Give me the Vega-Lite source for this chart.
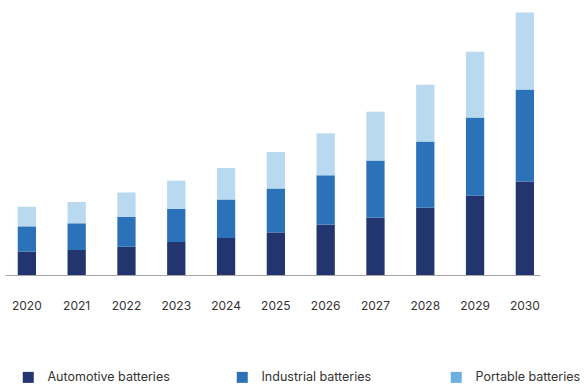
{
  "$schema": "https://vega.github.io/schema/vega-lite/v6.json",
  "autosize": "none",
  "width": 535,
  "height": 275,
  "padding": {"left": 5, "top": 0, "right": 44, "bottom": 109},
  "background": "white",
  "config": {"view": {"stroke": null}, "font": "Inter"},
  "data": {"values": [
    {"year": "2020", "series": "Automotive batteries", "value": 23.6},
    {"year": "2020", "series": "Industrial batteries", "value": 25.0},
    {"year": "2020", "series": "Portable batteries", "value": 19.7},
    {"year": "2021", "series": "Automotive batteries", "value": 25.0},
    {"year": "2021", "series": "Industrial batteries", "value": 26.6},
    {"year": "2021", "series": "Portable batteries", "value": 21.4},
    {"year": "2022", "series": "Automotive batteries", "value": 28.3},
    {"year": "2022", "series": "Industrial batteries", "value": 29.7},
    {"year": "2022", "series": "Portable batteries", "value": 24.6},
    {"year": "2023", "series": "Automotive batteries", "value": 33.0},
    {"year": "2023", "series": "Industrial batteries", "value": 33.0},
    {"year": "2023", "series": "Portable batteries", "value": 28.3},
    {"year": "2024", "series": "Automotive batteries", "value": 37.0},
    {"year": "2024", "series": "Industrial batteries", "value": 38.3},
    {"year": "2024", "series": "Portable batteries", "value": 31.7},
    {"year": "2025", "series": "Automotive batteries", "value": 42.6},
    {"year": "2025", "series": "Industrial batteries", "value": 43.7},
    {"year": "2025", "series": "Portable batteries", "value": 36.7},
    {"year": "2026", "series": "Automotive batteries", "value": 50.3},
    {"year": "2026", "series": "Industrial batteries", "value": 49.3},
    {"year": "2026", "series": "Portable batteries", "value": 42.0},
    {"year": "2027", "series": "Automotive batteries", "value": 57.3},
    {"year": "2027", "series": "Industrial batteries", "value": 57.0},
    {"year": "2027", "series": "Portable batteries", "value": 49.0},
    {"year": "2028", "series": "Automotive batteries", "value": 67.3},
    {"year": "2028", "series": "Industrial batteries", "value": 66.0},
    {"year": "2028", "series": "Portable batteries", "value": 57.0},
    {"year": "2029", "series": "Automotive batteries", "value": 79.3},
    {"year": "2029", "series": "Industrial batteries", "value": 78.0},
    {"year": "2029", "series": "Portable batteries", "value": 66.0},
    {"year": "2030", "series": "Automotive batteries", "value": 93.6},
    {"year": "2030", "series": "Industrial batteries", "value": 91.7},
    {"year": "2030", "series": "Portable batteries", "value": 77.3}
  ]},
  "mark": {"type": "bar"},
  "encoding": {
    "x": {
      "field": "year", "type": "ordinal",
      "scale": {"paddingInner": 0.633, "paddingOuter": 0.188, "align": 0.68},
      "axis": {
        "title": null, "labelAngle": 0, "ticks": false, "labelPadding": 25,
        "labelFontSize": 12, "labelColor": "#333333", "domainColor": "#a6a6a6",
        "domainWidth": 1, "grid": false
      }
    },
    "y": {
      "field": "value", "type": "quantitative", "stack": "zero",
      "scale": {"domain": [0, 275], "nice": false, "zero": true},
      "axis": null
    },
    "color": {
      "field": "series", "type": "nominal",
      "scale": {
        "domain": ["Automotive batteries", "Industrial batteries", "Portable batteries"],
        "range": ["#22356e", "#2b72b9", "#6cb0e0"]
      },
      "legend": {
        "title": null, "orient": "none", "legendX": 17, "legendY": 371,
        "direction": "horizontal", "columns": 3, "gridAlign": "all", "columnPadding": 66,
        "symbolType": "square", "symbolSize": 121, "symbolStrokeWidth": 0, "symbolOpacity": 1,
        "labelOffset": 13, "labelFontSize": 12.5, "labelColor": "#333333", "labelLimit": 300
      }
    },
    "fillOpacity": {
      "condition": {"test": "datum.series === 'Portable batteries'", "value": 0.48},
      "value": 1
    },
    "order": {"field": "series", "sort": "ascending"}
  }
}
